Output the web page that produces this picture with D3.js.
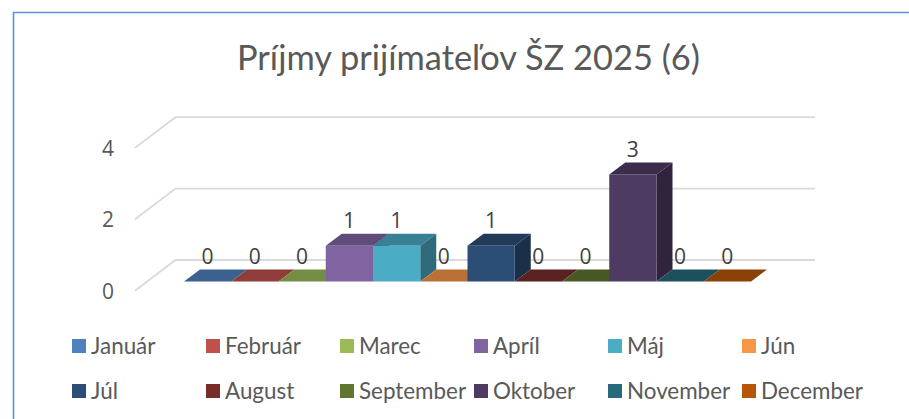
<!DOCTYPE html>
<html>
<head>
<meta charset="utf-8">
<script src="https://cdn.jsdelivr.net/npm/d3@7"></script>
<style>
  html, body { margin: 0; padding: 0; background: #fff; }
  svg { display: block; }
  text { font-family: Lato, "Open Sans", sans-serif; }
  .num { font-family: "Open Sans", sans-serif; }
</style>
</head>
<body>
<div id="chart"></div>
<script>
const months = ['Január', 'Február', 'Marec', 'Apríl', 'Máj', 'Jún', 'Júl', 'August', 'September', 'Oktober', 'November', 'December']
const values = [0, 0, 0, 1, 1, 0, 1, 0, 0, 3, 0, 0]
const yTicks = [0, 2, 4]
const color = ['#4f81bd', '#c0504d', '#9bbb59', '#8064a2', '#4bacc6', '#f79646', '#2c4d75', '#772c2a', '#5f7530', '#4d3b62', '#276a7c', '#b65708']
const title = 'Príjmy prijímateľov ŠZ 2025 (6)'

const chart_width = 909
const chart_height = 419
const textColor = '#595959'

const svg = d3.select('#chart')
  .append('svg')
  .attr('width', chart_width)
  .attr('height', chart_height)

// frame is cut off by the screenshot on the right and at the bottom
svg.append('path')
  .attr('d', 'M13.5,' + chart_height + 'V12.5H' + chart_width)
  .attr('fill', 'none')
  .attr('stroke', '#5b92cf')
  .attr('stroke-width', 1.6)

svg.append('text')
  .text(title)
  .attr('x', 468.5)
  .attr('y', 70)
  .attr('font-size', 34.4)
  .attr('fill', textColor)
  .attr('text-anchor', 'middle')

const x_scale = d3.scaleBand()
  .domain(months)
  .range([184, 751])

const y_scale = d3.scaleLinear()
  .domain([0, 4])
  .range([281.5, 138.7])

// oblique offsets: bars sit halfway into the floor
const bar_dx = 16, bar_dy = -12
const floorFront = 9.2, floorBack = -21.5
const wall_x0 = 135, wall_x1 = 175.5, wall_x2 = 815

// gridlines along side wall and back wall
svg.append('g')
  .selectAll('path')
  .data(yTicks)
  .enter()
  .append('path')
  .attr('d', d => {
    const y = y_scale(d)
    return 'M' + wall_x0 + ',' + (y + floorFront) + 'L' + wall_x1 + ',' + (y + floorBack) + 'H' + wall_x2
  })
  .attr('fill', 'none')
  .attr('stroke', '#d9d9d9')
  .attr('stroke-width', 1.8)

// y axis labels
const axis = svg.append('g')
  .attr('transform', 'translate(114,10)')
  .call(d3.axisLeft(y_scale).tickValues(yTicks).tickFormat(d3.format('d')).tickSize(0).tickPadding(0))
axis.select('.domain').remove()
axis.selectAll('text')
  .attr('font-size', 21)
  .attr('fill', textColor)
  .style('font-family', '"Open Sans", sans-serif')

// bars, left to right so each front covers the previous side face
const bars = svg.append('g')
  .selectAll('g')
  .data(months)
  .enter()
  .append('g')

const bw = x_scale.bandwidth()

bars.append('path')
  .attr('d', (d, i) => {
    const x = x_scale(d) + bw
    const y = y_scale(values[i])
    const y0 = y_scale(0)
    return 'M' + x + ',' + y + 'l' + bar_dx + ',' + bar_dy + 'V' + (y0 + bar_dy) + 'L' + x + ',' + y0 + 'Z'
  })
  .attr('fill', (d, i) => d3.rgb(color[i]).darker(1.35))

bars.append('path')
  .attr('d', (d, i) => {
    const x = x_scale(d)
    const y = y_scale(values[i])
    return 'M' + x + ',' + y + 'l' + bar_dx + ',' + bar_dy + 'h' + bw + 'l' + (-bar_dx) + ',' + (-bar_dy) + 'Z'
  })
  .attr('fill', (d, i) => d3.rgb(color[i]).darker(0.8))

bars.append('rect')
  .attr('x', d => x_scale(d))
  .attr('y', (d, i) => y_scale(values[i]))
  .attr('width', bw)
  .attr('height', (d, i) => y_scale(0) - y_scale(values[i]))
  .attr('fill', (d, i) => color[i])

// value labels
svg.append('g')
  .selectAll('text')
  .data(months)
  .enter()
  .append('text')
  .attr('class', 'num')
  .text((d, i) => values[i])
  .attr('x', d => x_scale(d) + bw / 2)
  .attr('y', (d, i) => y_scale(values[i]) - 17.5)
  .attr('font-size', 21)
  .attr('fill', '#404040')
  .attr('text-anchor', 'middle')

// legend, 6 columns by 2 rows
const legend_x = d3.scaleLinear().domain([0, 5]).range([72, 742])
const legend_y = d3.scaleLinear().domain([0, 1]).range([339, 384])

const legend = svg.append('g')
  .selectAll('g')
  .data(months)
  .enter()
  .append('g')
  .attr('transform', (d, i) => 'translate(' + legend_x(i % 6) + ',' + legend_y(Math.floor(i / 6)) + ')')

legend.append('rect')
  .attr('width', 14)
  .attr('height', 14)
  .attr('fill', (d, i) => color[i])

legend.append('text')
  .text(d => d)
  .attr('x', 19)
  .attr('y', 14.5)
  .attr('font-size', 22.4)
  .attr('fill', textColor)
</script>
</body>
</html>
